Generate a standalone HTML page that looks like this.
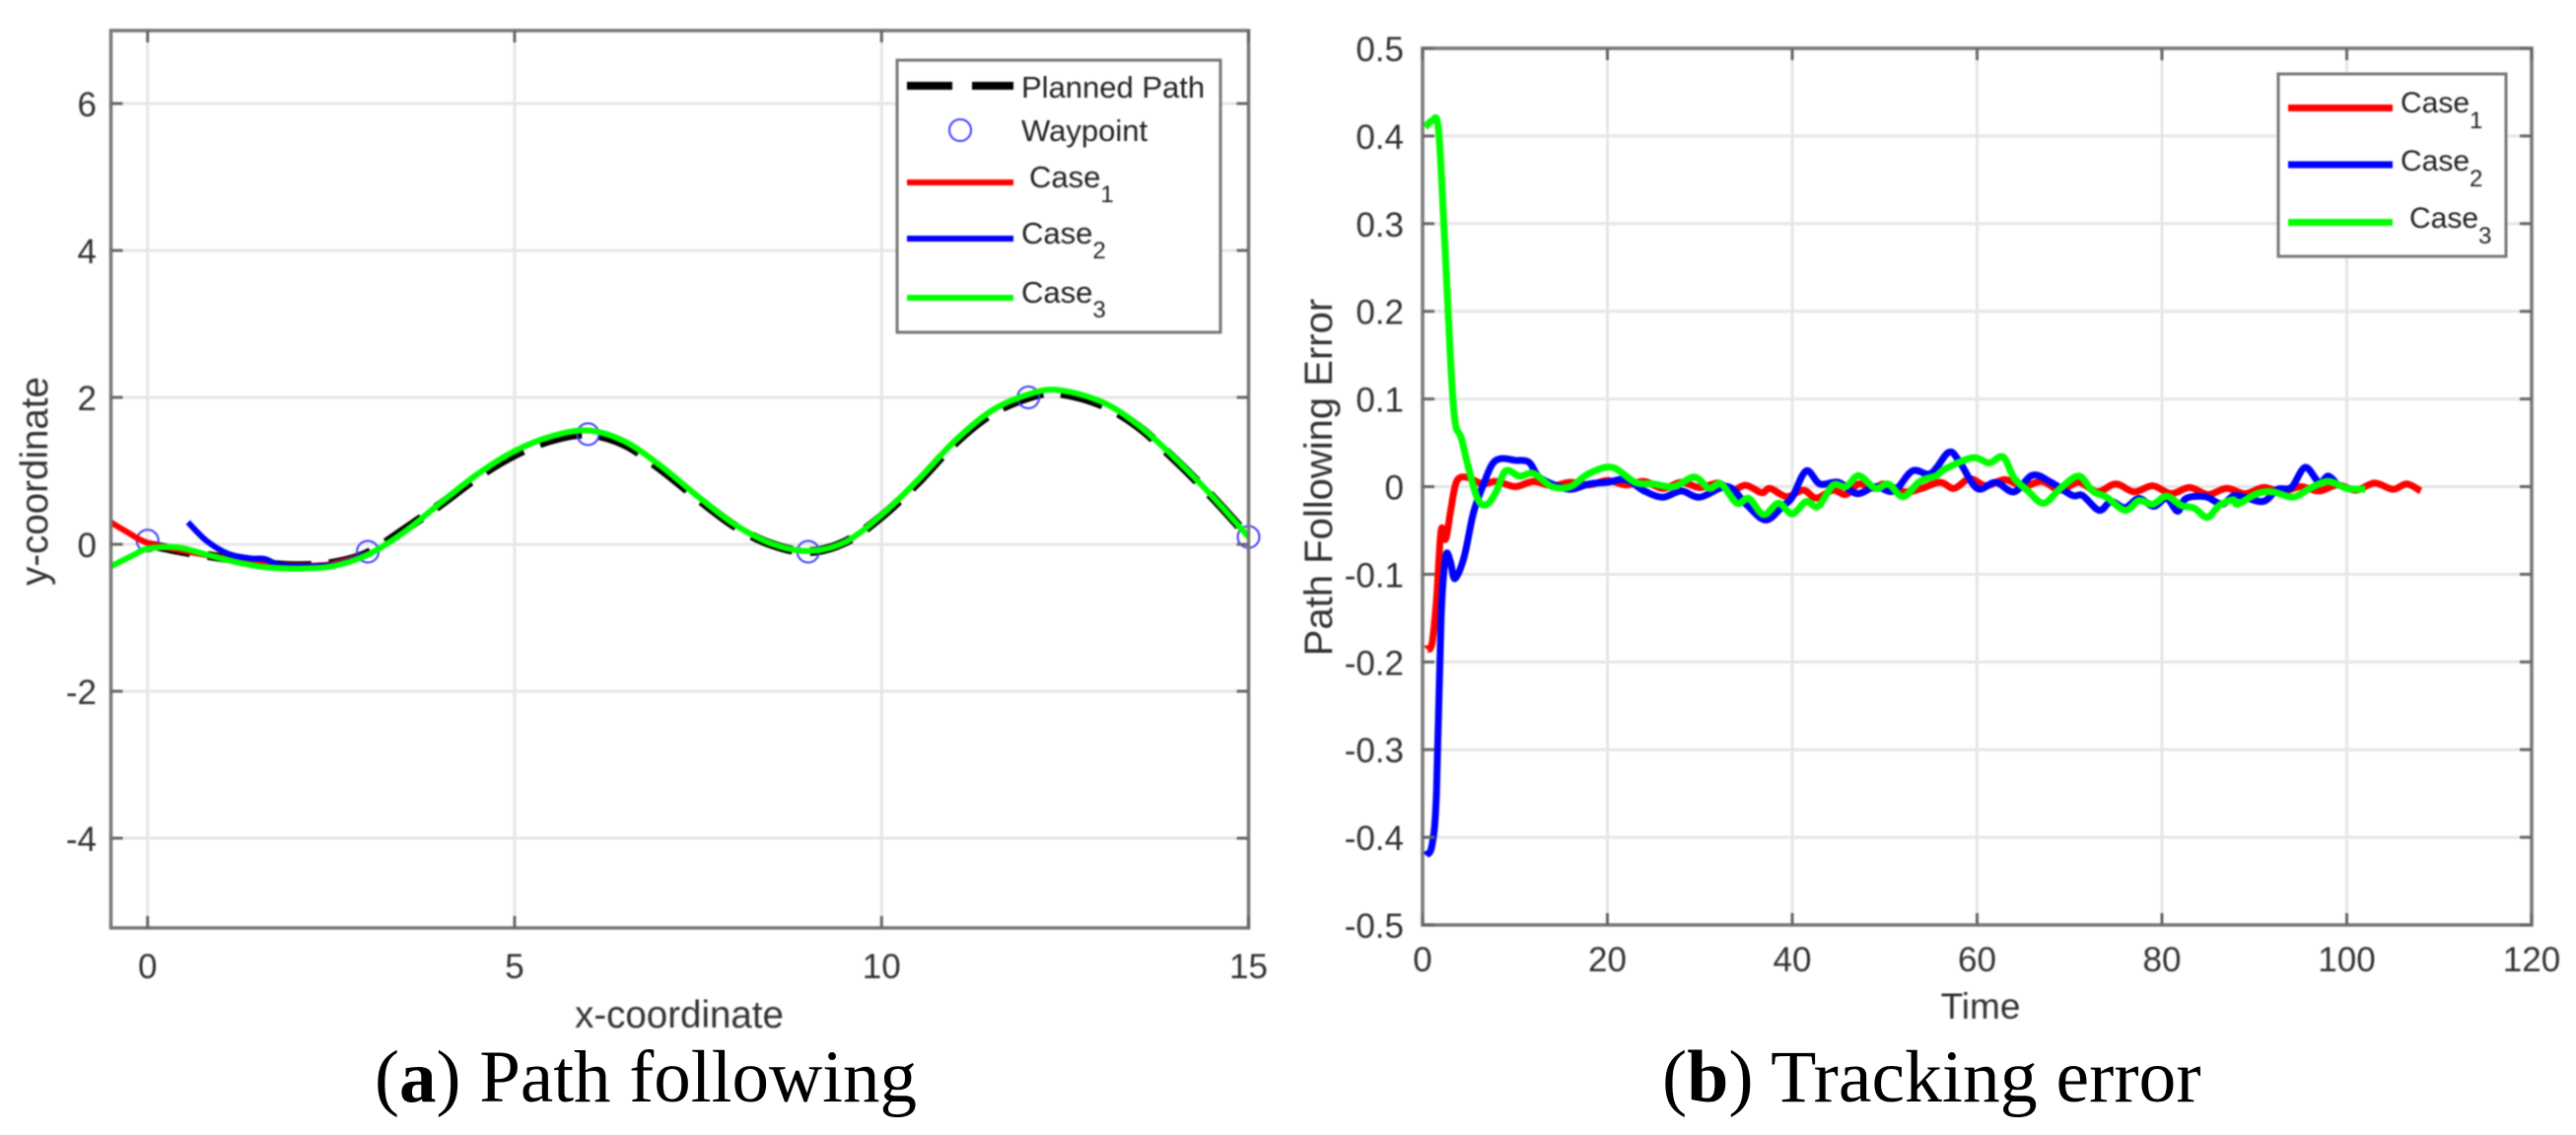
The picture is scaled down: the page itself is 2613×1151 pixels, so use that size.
<!DOCTYPE html>
<html lang="en">
<head>
<meta charset="utf-8">
<title>Path following and tracking error</title>
<style>
html,body{margin:0;padding:0;background:#fff;}
#fig{display:block;width:2613px;height:1151px;}
.sans{font-family:"Liberation Sans",sans-serif;}
.serif{font-family:"Liberation Serif",serif;}
.soft{filter:blur(0.7px);}
</style>
</head>
<body>
<svg id="fig" xmlns="http://www.w3.org/2000/svg" width="2613" height="1151" viewBox="0 0 2613 1151">
  <rect x="0" y="0" width="2613" height="1151" fill="#fff"/>
  <g class="soft">
    <g id="chartA"></g>
    <g id="chartB"></g>

    <g class="sans">
      <rect x="910" y="61" width="328" height="276" fill="#fff" stroke="#777" stroke-width="3"/>
      <line x1="920" y1="87" x2="1028" y2="87" stroke="#000" stroke-width="8" stroke-dasharray="46 20"/>
      <text x="1036" y="99" font-size="31" fill="#222">Planned Path</text>
      <circle cx="974" cy="132" r="11" fill="none" stroke="#3c3cff" stroke-width="2"/>
      <text x="1036" y="143" font-size="31" fill="#222">Waypoint</text>
      <line x1="920" y1="185" x2="1028" y2="185" stroke="#ff0000" stroke-width="6"/>
      <text x="1044" y="190" font-size="31" fill="#222">Case<tspan font-size="24" dy="15">1</tspan></text>
      <line x1="920" y1="242" x2="1028" y2="242" stroke="#0000ff" stroke-width="6"/>
      <text x="1036" y="247" font-size="31" fill="#222">Case<tspan font-size="24" dy="15">2</tspan></text>
      <line x1="920" y1="302" x2="1028" y2="302" stroke="#00ff00" stroke-width="6"/>
      <text x="1036" y="307" font-size="31" fill="#222">Case<tspan font-size="24" dy="15">3</tspan></text>
    </g>

    <g class="sans">
      <rect x="2311" y="75" width="231" height="185" fill="#fff" stroke="#777" stroke-width="3"/>
      <line x1="2321" y1="109.5" x2="2427" y2="109.5" stroke="#ff0000" stroke-width="7"/>
      <text x="2435" y="114" font-size="30" fill="#222">Case<tspan font-size="24" dy="16">1</tspan></text>
      <line x1="2321" y1="167" x2="2427" y2="167" stroke="#0000ff" stroke-width="7"/>
      <text x="2435" y="173" font-size="30" fill="#222">Case<tspan font-size="24" dy="16">2</tspan></text>
      <line x1="2321" y1="225.5" x2="2427" y2="225.5" stroke="#00ff00" stroke-width="7"/>
      <text x="2444" y="231" font-size="30" fill="#222">Case<tspan font-size="24" dy="16">3</tspan></text>
    </g>

    <text class="sans" x="689" y="1042" font-size="38.5" fill="#333" text-anchor="middle">x-coordinate</text>
    <text class="sans" transform="translate(48,488) rotate(-90)" font-size="38.5" fill="#333" text-anchor="middle">y-coordinate</text>
    <text class="sans" x="2009" y="1033" font-size="37" fill="#333" text-anchor="middle">Time</text>
    <text class="sans" transform="translate(1351,484) rotate(-90)" font-size="40" fill="#333" text-anchor="middle">Path Following Error</text>
  </g>

  <text class="serif" x="380" y="1117" font-size="75" fill="#000">(<tspan font-weight="bold">a</tspan>) Path following</text>
  <text class="serif" x="1686" y="1117" font-size="75.7" fill="#000">(<tspan font-weight="bold">b</tspan>) Tracking error</text>
</svg>

<script>
// ---- Chart A data ----
const aXTicks = [0, 5, 10, 15];
const aYTicks = [-4, -2, 0, 2, 4, 6];
const plannedX = [0, 0.5, 1, 1.5, 2, 2.5, 3, 3.5, 4, 4.5, 5, 5.5, 6, 6.5, 7, 7.5, 8, 8.5, 9, 9.5, 10, 10.5, 11, 11.5, 12, 12.4, 13, 13.5, 14, 14.5, 15];
const plannedY = [0, -0.1, -0.18, -0.25, -0.29, -0.26, -0.12, 0.2, 0.55, 0.92, 1.22, 1.42, 1.5, 1.36, 1.02, 0.62, 0.25, 0.0, -0.1, 0.03, 0.38, 0.85, 1.38, 1.78, 2.0, 2.06, 1.9, 1.6, 1.15, 0.65, 0.1];
const waypointX = [0, 3, 6, 9, 12, 15];
const waypointY = [0.05, -0.1, 1.5, -0.1, 2, 0.1];
const case1X = [-0.5, -0.3, 0, 0.5, 1, 1.5, 2, 2.5, 3];
const case1Y = [0.3, 0.18, 0.02, -0.09, -0.18, -0.25, -0.29, -0.27, -0.13];
const case2X = [0.55, 0.8, 1.1, 1.4, 1.6, 1.8, 2.2, 2.6, 3];
const case2Y = [0.3, 0.05, -0.13, -0.19, -0.2, -0.28, -0.3, -0.27, -0.13];
const case3X = [-0.5, -0.2, 0, 0.4, 0.8, 1.2, 1.6, 2, 2.5, 3, 3.5, 4, 4.5, 5, 5.5, 6, 6.5, 7, 7.5, 8, 8.5, 9, 9.5, 10, 10.5, 11, 11.5, 12, 12.4, 13, 13.5, 14, 14.5, 15];
const case3Y = [-0.3, -0.15, -0.06, -0.04, -0.14, -0.24, -0.31, -0.33, -0.3, -0.14, 0.17, 0.57, 0.96, 1.27, 1.47, 1.55, 1.4, 1.06, 0.65, 0.27, 0.01, -0.09, 0.03, 0.4, 0.88, 1.41, 1.82, 2.04, 2.1, 1.94, 1.62, 1.17, 0.66, 0.1];

// ---- Chart B data ----
const bXTicks = [0, 20, 40, 60, 80, 100, 120];
const bYTicks = [-0.5, -0.4, -0.3, -0.2, -0.1, 0, 0.1, 0.2, 0.3, 0.4, 0.5];
const redT = [0.4, 1, 1.5, 2, 2.5, 3, 3.5, 4, 5, 6.5, 8, 10, 12, 14, 16, 18, 20, 22, 24, 26, 28, 30, 32, 33.5, 35, 36.7, 37.6, 39.4, 41.2, 42.6, 44.4, 45.8, 47.2, 48.8, 50, 52.2, 54, 56, 57.5, 59.2, 61, 63, 65, 67, 69, 71, 73, 75, 77, 79, 81, 83, 85, 87, 89, 91, 93, 95, 97, 99, 101, 103, 105, 106.5, 108];
const redV = [-0.185, -0.18, -0.13, -0.05, -0.06, -0.03, 0, 0.01, 0.01, 0.003, 0.006, 0, 0.006, 0.001, 0.005, 0.002, 0.007, 0.002, 0.006, -0.002, 0.005, -0.001, 0.004, -0.004, 0.0015, -0.007, -0.002, -0.0115, -0.004, -0.013, -0.004, -0.009, 0.003, -0.002, 0.003, -0.006, -0.002, 0.005, -0.002, 0.009, 0.001, 0.008, 0, 0.006, -0.004, 0.005, -0.006, 0.003, -0.006, 0.001, -0.008, -0.001, -0.009, -0.002, -0.008, -0.001, -0.006, 0, -0.005, 0.002, -0.004, 0.004, -0.003, 0.003, -0.005];
const blueT = [0.3, 1, 1.5, 2, 2.5, 3, 3.5, 4.5, 5.5, 6.5, 7.5, 8.5, 10, 11.5, 12.5, 14, 16, 18, 20, 22, 24, 26, 28, 30, 33, 35, 37.1, 39, 40, 41.5, 43, 45, 47, 49, 51, 53, 55, 56.9, 58, 60, 62, 64, 66, 68, 70.3, 71.4, 73.2, 74.5, 76, 77.5, 79.1, 80.5, 81.7, 82.6, 84.7, 86.5, 88, 90.9, 92.5, 94, 95.5, 97, 98, 99];
const blueV = [-0.42, -0.41, -0.35, -0.15, -0.08, -0.085, -0.105, -0.08, -0.03, 0, 0.025, 0.032, 0.03, 0.028, 0.012, 0.003, -0.003, 0.003, 0.005, 0.008, -0.005, -0.012, -0.005, -0.012, 0, -0.02, -0.038, -0.022, -0.012, 0.018, 0.003, 0.005, -0.008, 0, -0.005, 0.018, 0.015, 0.039, 0.03, -0.002, 0.005, -0.006, 0.013, 0.005, -0.01, -0.01, -0.027, -0.017, -0.024, -0.0135, -0.0225, -0.0135, -0.028, -0.0135, -0.0115, -0.02, -0.01, -0.017, -0.003, -0.001, 0.022, 0.005, 0.012, 0.002];
const greenT = [0.3, 1, 1.7, 2.3, 3, 3.5, 4.2, 5, 6, 7, 8, 9, 10.5, 12, 14, 16, 18, 20.5, 23, 25, 27.2, 29.4, 31, 32.3, 34, 35.3, 36.9, 38.5, 40, 41.5, 42.8, 44.4, 45.8, 47.2, 49, 50.4, 52, 53.8, 55.6, 56.5, 59.5, 61.3, 62.8, 64, 65.5, 67.2, 69, 71, 72.5, 74, 76, 77.5, 79, 80.5, 82.1, 83.5, 84.9, 86.2, 87.7, 88.2, 90.3, 92, 94.2, 96, 98, 100, 102];
const greenV = [0.41, 0.417, 0.41, 0.3, 0.15, 0.075, 0.055, 0.02, -0.015, -0.02, -0.005, 0.018, 0.012, 0.015, 0, 0, 0.015, 0.022, 0.005, 0.003, 0, 0.011, -0.002, 0.003, -0.019, -0.0135, -0.032, -0.019, -0.031, -0.017, -0.0225, 0.0015, 0, 0.0125, -0.002, 0.003, -0.0115, 0.006, 0.0125, 0.02, 0.033, 0.027, 0.034, 0.01, -0.005, -0.019, -0.002, 0.012, -0.005, -0.012, -0.027, -0.016, -0.02, -0.011, -0.0215, -0.0245, -0.035, -0.0215, -0.015, -0.02, -0.008, -0.006, -0.012, -0.002, 0.006, -0.002, -0.003];

const svgNS = 'http://www.w3.org/2000/svg';
function make(tag, attrs, parent) {
  const el = document.createElementNS(svgNS, tag);
  for (const k in attrs) el.setAttribute(k, attrs[k]);
  parent.appendChild(el);
  return el;
}
function smoothPath(xs, ys, sx, sy) {
  const p = xs.map(function (x, i) { return [sx(x), sy(ys[i])]; });
  let d = 'M' + p[0][0].toFixed(1) + ' ' + p[0][1].toFixed(1);
  for (let i = 0; i < p.length - 1; i++) {
    const a = p[Math.max(i - 1, 0)], b = p[i], c = p[i + 1], e = p[Math.min(i + 2, p.length - 1)];
    const c1x = b[0] + (c[0] - a[0]) / 6, c1y = b[1] + (c[1] - a[1]) / 6;
    const c2x = c[0] - (e[0] - b[0]) / 6, c2y = c[1] - (e[1] - b[1]) / 6;
    d += 'C' + c1x.toFixed(1) + ' ' + c1y.toFixed(1) + ' ' + c2x.toFixed(1) + ' ' + c2y.toFixed(1) + ' ' + c[0].toFixed(1) + ' ' + c[1].toFixed(1);
  }
  return d;
}
function drawGrid(g, box, sx, sy, xTicks, yTicks) {
  xTicks.forEach(function (t) {
    const x = sx(t);
    const grid = make('line', {x1: x, x2: x, y1: box.top, y2: box.bottom, stroke: '#e6e6e6', 'stroke-width': 3}, g);
    
    
  });
  yTicks.forEach(function (t) {
    const y = sy(t);
    const grid = make('line', {x1: box.left, x2: box.right, y1: y, y2: y, stroke: '#e6e6e6', 'stroke-width': 3}, g);
    
    
  });
}
function drawFrame(g, box, sx, sy, xTicks, yTicks, fmtY, labelX, labelY) {
  const frame = make('rect', {x: box.left, y: box.top, width: box.right - box.left, height: box.bottom - box.top, fill: 'none', stroke: '#777', 'stroke-width': 3.5}, g);
  
  
  xTicks.forEach(function (t) {
    const x = sx(t);
    const tickB = make('line', {x1: x, x2: x, y1: box.bottom, y2: box.bottom - 12, stroke: '#666', 'stroke-width': 3}, g);
    
    
    const tickT = make('line', {x1: x, x2: x, y1: box.top, y2: box.top + 12, stroke: '#666', 'stroke-width': 3}, g);
    
    
    const lab = make('text', {x: x, y: labelY, 'font-size': 35, fill: '#333', 'text-anchor': 'middle', 'font-family': '"Liberation Sans",sans-serif'}, g);
    
    
    lab.textContent = String(t);
  });
  yTicks.forEach(function (t) {
    const y = sy(t);
    const tickL = make('line', {x1: box.left, x2: box.left + 12, y1: y, y2: y, stroke: '#666', 'stroke-width': 3}, g);
    
    
    const tickR = make('line', {x1: box.right, x2: box.right - 12, y1: y, y2: y, stroke: '#666', 'stroke-width': 3}, g);
    
    
    const lab = make('text', {x: labelX, y: y + 13, 'font-size': 35, fill: '#333', 'text-anchor': 'end', 'font-family': '"Liberation Sans",sans-serif'}, g);
    
    
    lab.textContent = fmtY(t);
  });
}

// Chart A
const gA = document.getElementById('chartA');
const boxA = {left: 112.5, right: 1266.5, top: 31, bottom: 941};
const xA = function (v) { return boxA.left + (v + 0.5) * (boxA.right - boxA.left) / 15.5; };
const yA = function (v) { return 552 - v * 74.5; };
drawGrid(gA, boxA, xA, yA, aXTicks, aYTicks);

const plannedLine = make('path', {d: smoothPath(plannedX, plannedY, xA, yA), fill: 'none', stroke: '#000', 'stroke-width': 9, 'stroke-dasharray': '44 18'}, gA);



waypointX.forEach(function (x, i) {
  const wp = make('circle', {cx: xA(x), cy: yA(waypointY[i]), r: 11, fill: 'none', stroke: '#3c3cff', 'stroke-width': 2}, gA);
  
  
});

const aCase1 = make('path', {d: smoothPath(case1X, case1Y, xA, yA), fill: 'none', stroke: '#ff0000', 'stroke-width': 6}, gA);


const aCase2 = make('path', {d: smoothPath(case2X, case2Y, xA, yA), fill: 'none', stroke: '#0000ff', 'stroke-width': 6}, gA);


const aCase3 = make('path', {d: smoothPath(case3X, case3Y, xA, yA), fill: 'none', stroke: '#00ff00', 'stroke-width': 6}, gA);



drawFrame(gA, boxA, xA, yA, aXTicks, aYTicks, function (t) { return String(t); }, 98, 992);

// Chart B
const gB = document.getElementById('chartB');
const boxB = {left: 1443, right: 2568, top: 49, bottom: 938};
const xB = function (v) { return boxB.left + v * (boxB.right - boxB.left) / 120; };
const yB = function (v) { return 493.5 - v * 889; };
drawGrid(gB, boxB, xB, yB, bXTicks, bYTicks);

const bRed = make('path', {d: smoothPath(redT, redV, xB, yB), fill: 'none', stroke: '#ff0000', 'stroke-width': 7}, gB);


const bBlue = make('path', {d: smoothPath(blueT, blueV, xB, yB), fill: 'none', stroke: '#0000ff', 'stroke-width': 7}, gB);


const bGreen = make('path', {d: smoothPath(greenT, greenV, xB, yB), fill: 'none', stroke: '#00ff00', 'stroke-width': 7}, gB);



drawFrame(gB, boxB, xB, yB, bXTicks, bYTicks, function (t) { return t === 0 ? '0' : t.toFixed(1); }, 1424, 985);
</script>
</body>
</html>
